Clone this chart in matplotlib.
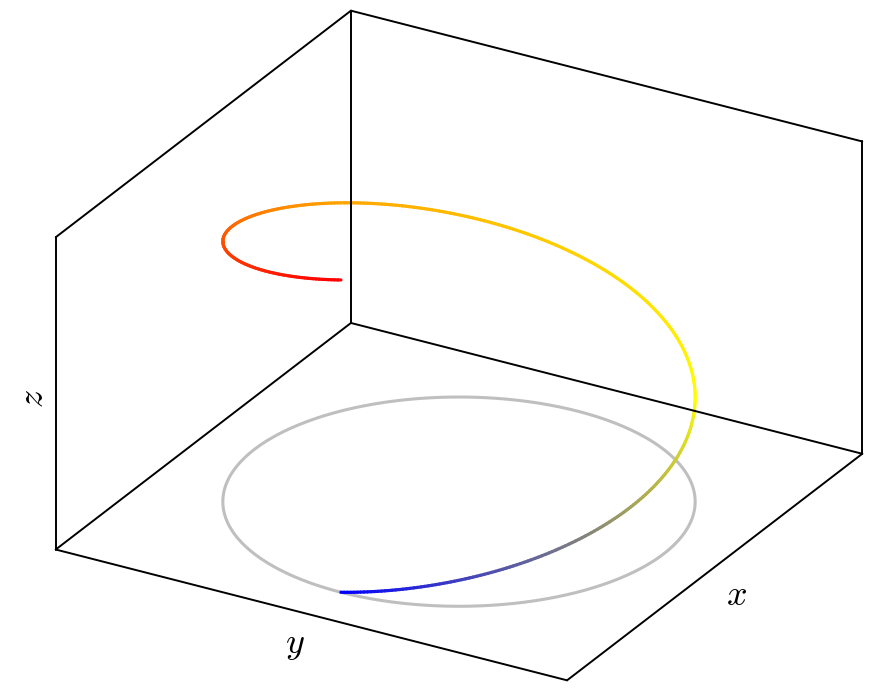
import numpy as np
import matplotlib
matplotlib.use("Agg")
import matplotlib.pyplot as plt
from matplotlib.colors import LinearSegmentedColormap
from mpl_toolkits.mplot3d.art3d import Line3DCollection

plt.rcParams['mathtext.fontset'] = 'cm'

# ---- data ----
t_start, t_end = 0.0, 2 * np.pi      # parameter domain (one full turn)
n_samples = 400
radius = 1.0
z_low, z_high = 0.0, 1.0
xlim = [-1.25, 1.25]
ylim = [-1.25, 1.25]
zlim = [0.0, 1.0]
cmap_colors = ["blue", "yellow", "orange", "red"]   # pgfplots 'hot'
axis_labels = ["$x$", "$y$", "$z$"]

t = np.linspace(t_start, t_end, n_samples)
hx = radius * np.cos(t)
hy = radius * np.sin(t)
hz = z_low + (z_high - z_low) * (t - t_start) / (t_end - t_start)

# ---- figure ----
W, H = 873, 691
dpi = 100
fig = plt.figure(figsize=(W / dpi, H / dpi), dpi=dpi)

S = 691.0                       # square axes side in px
zoom = 878.3 / S
cx, cy = 459.0, 345.5           # px position of box centre (from bottom)
frac = 0.095 / 0.185
left = (cx - frac * S) / W
bottom = (cy - frac * S) / H
ax = fig.add_axes([left, bottom, S / W, S / H], projection='3d')
ax.set_proj_type('ortho')
ax.view_init(elev=26.3, azim=30.0)
ax.set_box_aspect((1, 1, 0.59), zoom=zoom)
ax.set_xlim(xlim)
ax.set_ylim(ylim)
ax.set_zlim(zlim)
ax.set_axis_off()
ax.computed_zorder = False

# floor circle (projection of helix)
ax.plot(hx, hy, np.full_like(hx, zlim[0]), color=(0.75, 0.75, 0.75),
        lw=2.2, clip_on=False, zorder=1)

# helix coloured by z
cmap = LinearSegmentedColormap.from_list("hot2", cmap_colors)
pts = np.column_stack([hx, hy, hz])
segs = np.stack([pts[:-1], pts[1:]], axis=1)
zmid = 0.5 * (hz[:-1] + hz[1:])
cols = cmap((zmid - z_low) / (z_high - z_low))
lc = Line3DCollection(segs, colors=cols, linewidths=2.3, zorder=2)
lc.set_clip_on(False)
lc.set_capstyle('round')
ax.add_collection3d(lc)

# box edges (back panes)
x0, x1 = xlim
y0, y1 = ylim
z0, z1 = zlim
edges = [
    ((x0, y0, z0), (x1, y0, z0)),
    ((x0, y0, z0), (x0, y1, z0)),
    ((x1, y0, z0), (x1, y1, z0)),
    ((x0, y1, z0), (x1, y1, z0)),
    ((x0, y0, z0), (x0, y0, z1)),
    ((x1, y0, z0), (x1, y0, z1)),
    ((x0, y1, z0), (x0, y1, z1)),
    ((x0, y0, z1), (x1, y0, z1)),
    ((x0, y0, z1), (x0, y1, z1)),
]
for a, b in edges:
    ax.plot([a[0], b[0]], [a[1], b[1]], [a[2], b[2]], color='black',
            lw=1.4, clip_on=False, zorder=3, solid_capstyle='round')

fs = 26
ax.text(0.0, y1 + 0.107, z0 - 0.0716, axis_labels[0], fontsize=fs,
        ha='center', va='center')
ax.text(x1 + 0.14, 0.0, z0 - 0.0556, axis_labels[1], fontsize=fs,
        ha='center', va='center')
ax.text(x1, y0 - 0.112, 0.464, axis_labels[2], fontsize=fs, ha='center',
        va='center', zdir='z')

fig.savefig("out.png", dpi=dpi)
